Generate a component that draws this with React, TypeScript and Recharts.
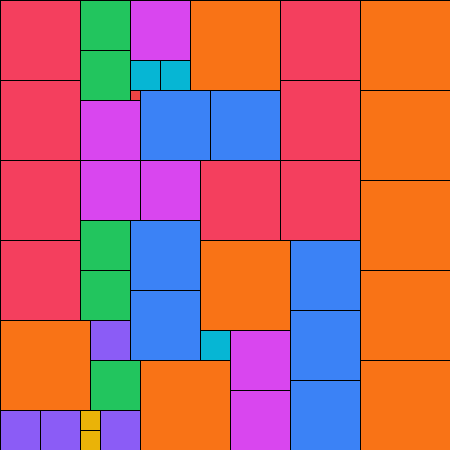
import React from "react";
import { ComposedChart, XAxis, YAxis, Scatter, ReferenceArea } from "recharts";

// Partridge tiling: n squares of side n (n = 1..9) filling a 45 x 45 square.
// Each entry is [column, row] of the square's top-left corner, in grid units.
const side9 = [[19, 0], [36, 0], [36, 9], [36, 18], [36, 27], [36, 36], [20, 24], [0, 32], [14, 36]];
const side8 = [[0, 0], [0, 8], [0, 16], [0, 24], [28, 0], [28, 8], [20, 16], [28, 16]];
const side7 = [[14, 9], [21, 9], [13, 22], [13, 29], [29, 24], [29, 31], [29, 38]];
const side6 = [[13, 0], [8, 10], [8, 16], [14, 16], [23, 33], [23, 39]];
const side5 = [[8, 0], [8, 5], [8, 22], [8, 27], [9, 36]];
const side4 = [[9, 32], [0, 41], [4, 41], [10, 41]];
const side3 = [[13, 6], [16, 6], [20, 33]];
const side2 = [[8, 41], [8, 43]];
const side1 = [[13, 9]];

const sideColors: Record<number, string> = {
  9: "#f97316",
  8: "#f43f5e",
  7: "#3b82f6",
  6: "#d946ef",
  5: "#22c55e",
  4: "#8b5cf6",
  3: "#06b6d4",
  2: "#eab308",
  1: "#ef4444",
};

const groups: [number, number[][]][] = [
  [9, side9], [8, side8], [7, side7], [6, side6], [5, side5],
  [4, side4], [3, side3], [2, side2], [1, side1],
];

const squares = groups.flatMap(([side, list]) =>
  list.map(([col, row]) => ({ side, col, row, x: col + side / 2, y: row + side / 2 }))
);

export default function App() {
  return (
    <div style={{ position: "absolute", left: 0, top: 0 }}>
      <ComposedChart width={450} height={450} margin={{ top: 0, right: 0, bottom: 0, left: 0 }}>
        <XAxis type="number" dataKey="x" domain={[0, 45]} hide allowDataOverflow />
        <YAxis type="number" dataKey="y" domain={[0, 45]} reversed hide allowDataOverflow />
        <Scatter data={squares} dataKey="y" isAnimationActive={false} shape={() => <g />} legendType="none" />
        {squares.map((s, i) => (
          <ReferenceArea
            key={i}
            x1={s.col}
            x2={s.col + s.side}
            y1={s.row}
            y2={s.row + s.side}
            fill={sideColors[s.side]}
            fillOpacity={1}
            stroke="#000"
            strokeWidth={1}
            shapeRendering="crispEdges"
            ifOverflow="visible"
          />
        ))}
      </ComposedChart>
    </div>
  );
}
